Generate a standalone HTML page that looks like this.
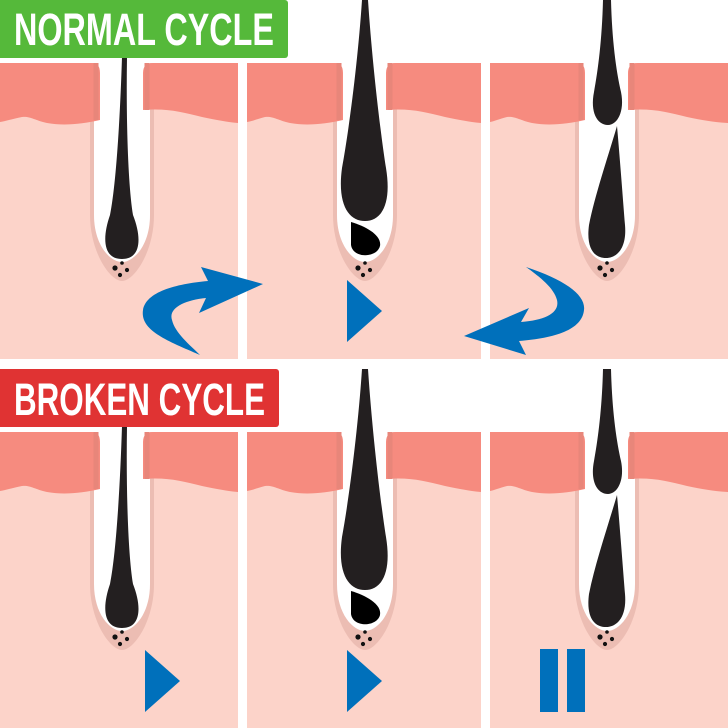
<!DOCTYPE html>
<html><head><meta charset="utf-8"><style>
html,body{margin:0;padding:0;background:#fff;}
svg{display:block;}
text{font-family:"Liberation Sans Narrow","Liberation Sans",sans-serif;font-weight:bold;fill:#fff;}
</style></head><body>
<svg width="728" height="728" viewBox="0 0 728 728" xmlns="http://www.w3.org/2000/svg">
<defs>
<g id="bg">
  <rect x="0" y="63" width="238" height="296" fill="#fcd3c9"/>
  <rect x="247" y="63" width="234" height="296" fill="#fcd3c9"/>
  <rect x="490" y="63" width="238" height="296" fill="#fcd3c9"/>
</g>
<g id="fol">
  <path d="M-32,63 L-32,215 C-32,252 -12,281 0,281 C12,281 32,252 32,215 L32,63 Z" fill="#ecbdb3"/>
  <path d="M-28,63 L-28,215 C-28,245 -12,262 0,262 C12,262 28,245 28,215 L28,63 Z" fill="#fff"/>
  <circle cx="-7" cy="268" r="2.6" fill="#111"/>
  <circle cx="0" cy="263" r="1.8" fill="#111"/>
  <circle cx="5" cy="270" r="2.1" fill="#111"/>
  <circle cx="-2" cy="275" r="2.1" fill="#111"/>
</g>
</defs>

<g id="row">
  <use href="#bg"/>
  <!-- panel 1 -->
  <g transform="translate(122,0)">
    <use href="#fol"/>
    <path d="M-122,63 L-30,63 Q-22,63 -22,73 L-22,120 C-40,124 -58,126 -75,123 C-88,120 -92,116 -100,117 C-110,119 -116,121 -122,122 Z" fill="#f68b7f"/>
    <path d="M21,110 C45,108 60,112 80,117 C95,120 105,122 116,123 L116,63 L31,63 Q21,63 21,73 Z" fill="#f68b7f"/>
    <path d="M-26,63 L-26,120" stroke="#e8867a" stroke-width="5"/>
    <path d="M25,63 L25,110" stroke="#e8867a" stroke-width="5"/>
    <path d="M0,57 L5,57 C4,120 6,185 11,215 C20,238 19,259 0,259 C-19,259 -20,238 -12,215 C-6,185 -2,120 0,57 Z" fill="#231f20"/>
  </g>
  <!-- panel 2 -->
  <g transform="translate(365,0)">
    <use href="#fol"/>
    <path d="M-118,63 L-30,63 Q-22,63 -22,73 L-22,120 C-40,124 -58,126 -75,123 C-88,120 -92,116 -100,117 C-108,119 -112,121 -118,122 Z" fill="#f68b7f"/>
    <path d="M21,110 C45,108 60,112 80,117 C95,120 105,122 116,123 L116,63 L31,63 Q21,63 21,73 Z" fill="#f68b7f"/>
    <path d="M-26,63 L-26,120" stroke="#e8867a" stroke-width="5"/>
    <path d="M25,63 L25,110" stroke="#e8867a" stroke-width="5"/>
    <path d="M-3,0 L3,0 C7,60 15,130 21,168 C27,205 16,221 0,221 C-16,221 -28,205 -23,168 C-16,130 -7,60 -3,0 Z" fill="#231f20"/>
    <path d="M-14,222 C0,226 17,235 15,246 C12,258 -12,259 -14,245 Z" fill="#000"/>
  </g>
  <!-- panel 3 -->
  <g transform="translate(607,0)">
    <use href="#fol"/>
    <path d="M-117,63 L-30,63 Q-22,63 -22,73 L-22,120 C-40,124 -58,126 -75,123 C-88,120 -92,116 -100,117 C-108,119 -112,121 -117,122 Z" fill="#f68b7f"/>
    <path d="M21,110 C45,108 60,112 80,117 C95,120 105,122 121,123 L121,63 L31,63 Q21,63 21,73 Z" fill="#f68b7f"/>
    <path d="M-26,63 L-26,120" stroke="#e8867a" stroke-width="5"/>
    <path d="M25,63 L25,110" stroke="#e8867a" stroke-width="5"/>
    <path d="M-4,0 L4,0 C5,40 9,70 14,92 C18,112 10,125 1,125 C-10,125 -17,112 -13,92 C-9,70 -5,40 -4,0 Z" fill="#231f20"/>
    <path d="M10,126 C13,160 16,200 18,225 C20,248 10,258 -1,258 C-13,258 -21,248 -18,225 C-12,195 0,160 10,126 Z" fill="#231f20"/>
  </g>
</g>

<use href="#row" transform="translate(0,369)"/>

<!-- row 1 arrows -->
<path d="M208,281 L201,267 L263,284 L199,313 L206,298 C185,300 168,308 172,320 C175,333 190,345 200,355 C165,340 140,330 143,310 C146,292 175,284 208,281Z" fill="#0070bb"/>
<polygon points="347,280 347,342 382,311" fill="#0070bb"/>
<path d="M519,341 L526,355 L464,336 L529,308 L521,322 C545,320 560,313 557,300 C554,288 540,277 526,267 C565,280 586,295 584,310 C582,330 555,338 519,341Z" fill="#0070bb"/>

<!-- row 2 markers -->
<polygon points="145,650 145,712 180,681" fill="#0070bb"/>
<polygon points="347,650 347,712 382,681" fill="#0070bb"/>
<rect x="540" y="649" width="18" height="63" fill="#0070bb"/>
<rect x="567" y="649" width="18" height="63" fill="#0070bb"/>

<!-- labels -->
<rect x="-5" y="0" width="293" height="58" rx="3" fill="#55b93a"/>
<text x="14" y="45" font-size="45" textLength="260" lengthAdjust="spacingAndGlyphs">NORMAL CYCLE</text>
<rect x="-5" y="369" width="284" height="58" rx="3" fill="#e03333"/>
<text x="14" y="415" font-size="45" textLength="251" lengthAdjust="spacingAndGlyphs">BROKEN CYCLE</text>
</svg>
</body></html>
